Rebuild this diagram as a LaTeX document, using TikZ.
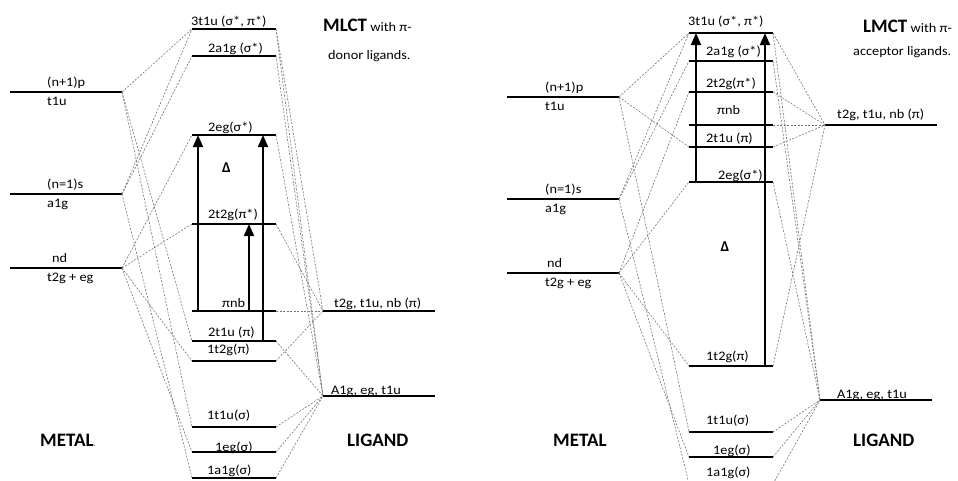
\documentclass[tikz,border=0pt]{standalone}
\usepackage{fontspec}
\setmainfont{Carlito}[FakeStretch=1.1]
\newfontfamily\headfont{Carlito}
\usetikzlibrary{arrows.meta}

\tikzset{
  level/.style={line width=1.3pt},
  link/.style={gray!90!black, line width=0.6pt, dash pattern=on 2pt off 1.5pt},
  trans/.style={line width=1.8pt, -{Triangle[width=10pt,length=12pt]}},
  lbl/.style={anchor=base west, inner sep=0pt, font=\fontsize{13}{15}\selectfont},
  head/.style={anchor=base west, inner sep=0pt, font=\headfont\bfseries\fontsize{19}{22}\selectfont},
}

\begin{document}
\begin{tikzpicture}[x=1pt,y=-1pt]
\useasboundingbox (0,0) rectangle (958,480);

% ---------- MLCT panel ----------
% metal orbitals
\foreach \n/\y/\ax/\a/\b in {p/92/47/(n+1)p/t1u, s/194/47/(n=1)s/a1g, d/268/52/nd/t2g + eg}{
  \coordinate (Am\n-w) at (10,\y);
  \coordinate (Am\n-e) at (122,\y);
  \draw[level] (Am\n-w) -- (Am\n-e);
  \node[lbl] (Am\n-up) at (\ax,\y-6) {\a};
  \node[lbl] (Am\n-dn) at (47,\y+13) {\b};
}
% molecular orbitals
\foreach \n/\y/\lx/\ly/\t in {3t1u/29/191/25/{3t1u (σ*, π*)}, 2a1g/56/208/52/{2a1g (σ*)},
    2eg/135/208/131/2eg(σ*), 2t2g/224/208/218/2t2g(π*), pnb/311/222/307/πnb,
    2t1u/341/208/336/{2t1u (π)}, 1t2g/361/207/353/1t2g(π), 1t1u/427/207/419/1t1u(σ),
    1eg/452/215/451/1eg(σ), 1a1g/478/207/474/1a1g(σ)}{
  \coordinate (Ao\n-w) at (192,\y);
  \coordinate (Ao\n-e) at (276,\y);
  \draw[level] (Ao\n-w) -- (Ao\n-e);
  \node[lbl] (Ao\n-t) at (\lx,\ly) {\t};
}
% ligand orbitals
\coordinate (Alpi-w) at (323,311);
\coordinate (Alpi-e) at (435,311);
\draw[level] (Alpi-w) -- (Alpi-e);
\node[lbl] (Alpi-t) at (334,307) {t2g, t1u, nb (π)};
\coordinate (Alsig-w) at (323,396);
\coordinate (Alsig-e) at (435,396);
\draw[level] (Alsig-w) -- (Alsig-e);
\node[lbl] (Alsig-t) at (331,394) {A1g, eg, t1u};
% correlation lines
\foreach \m/\o in {p/3t1u, p/2t1u, p/1t1u, s/3t1u, s/2a1g, s/1a1g, d/2eg, d/2t2g, d/1t2g, d/1eg}
  \draw[link] (Am\m-e) -- (Ao\o-w);
\foreach \o in {3t1u, 2t2g, pnb, 1t2g}
  \draw[link] (Ao\o-e) -- (Alpi-w);
\foreach \o in {3t1u, 2a1g, 2eg, 2t1u, 1t1u, 1eg, 1a1g}
  \draw[link] (Ao\o-e) -- (Alsig-w);
% transitions
\draw[trans] ([xshift=6pt]Aopnb-w) -- ([xshift=6pt]Ao2eg-w);
\draw[trans] ([xshift=-13pt]Ao2t1u-e) -- ([xshift=-13pt]Ao2eg-e);
\draw[trans] ([xshift=-27pt]Aopnb-e) -- ([xshift=-27pt]Ao2t2g-e);
\node[font=\headfont\bfseries\fontsize{15}{17}\selectfont] (Adelta) at (226.5,168) {Δ};
% titles
\node[head] (Atitle) at (323,31) {MLCT\normalfont\fontsize{13}{15}\selectfont{} with π-};
\node[lbl] (Anote) at (328,59) {donor ligands.};
\node[head] (Ametal) at (40,446) {METAL\normalfont\fontsize{7}{8}\selectfont.};
\node[head] (Aligand) at (347,446) {LIGAND};

% ---------- LMCT panel ----------
% metal orbitals
\foreach \n/\y/\ax/\a/\b in {p/97/545/(n+1)p/t1u, s/199/545/(n=1)s/a1g, d/273/547/nd/t2g + eg}{
  \coordinate (Bm\n-w) at (507,\y);
  \coordinate (Bm\n-e) at (619,\y);
  \draw[level] (Bm\n-w) -- (Bm\n-e);
  \node[lbl] (Bm\n-up) at (\ax,\y-6) {\a};
  \node[lbl] (Bm\n-dn) at (545,\y+13) {\b};
}
% molecular orbitals
\foreach \n/\y/\lx/\ly/\t in {3t1u/33/688/25/{3t1u (σ*, π*)}, 2a1g/61/706/55/{2a1g (σ*)},
    2t2g/92/706/87/2t2g(π*), pnb/125/717/114/πnb, 2t1u/147/706/142/{2t1u (π)},
    2eg/182/718/179/2eg(σ*), 1t2g/366/706/360/1t2g(π), 1t1u/432/706/424/1t1u(σ),
    1eg/457/713/454/1eg(σ), 1a1g/484/706/476/1a1g(σ)}{
  \coordinate (Bo\n-w) at (689,\y);
  \coordinate (Bo\n-e) at (773,\y);
  \draw[level] (Bo\n-w) -- (Bo\n-e);
  \node[lbl] (Bo\n-t) at (\lx,\ly) {\t};
}
% ligand orbitals
\coordinate (Blpi-w) at (825,125);
\coordinate (Blpi-e) at (937,125);
\draw[level] (Blpi-w) -- (Blpi-e);
\node[lbl] (Blpi-t) at (837,118) {t2g, t1u, nb (π)};
\coordinate (Blsig-w) at (820,400);
\coordinate (Blsig-e) at (932,400);
\draw[level] (Blsig-w) -- (Blsig-e);
\node[lbl] (Blsig-t) at (837,398) {A1g, eg, t1u};
% correlation lines
\foreach \m/\o in {p/3t1u, p/2t1u, p/1t1u, s/3t1u, s/2a1g, s/1a1g, d/2t2g, d/2eg, d/1t2g, d/1eg}
  \draw[link] (Bm\m-e) -- (Bo\o-w);
\foreach \o in {3t1u, 2t2g, pnb, 2t1u, 1t2g}
  \draw[link] (Bo\o-e) -- (Blpi-w);
\foreach \o in {3t1u, 2a1g, 2eg, 1t1u, 1eg, 1a1g}
  \draw[link] (Bo\o-e) -- (Blsig-w);
% transitions
\draw[trans] ([xshift=7pt]Bo2eg-w) -- ([xshift=7pt]Bo3t1u-w);
\draw[trans] ([xshift=-8pt]Bo1t2g-e) -- ([xshift=-8pt]Bo3t1u-e);
\node[font=\headfont\bfseries\fontsize{15}{17}\selectfont] (Bdelta) at (725,247) {Δ};
% titles
\node[head] (Btitle) at (863,32) {LMCT\normalfont\fontsize{13}{15}\selectfont{} with π-};
\node[lbl] (Bnote) at (853,55) {acceptor ligands.};
\node[head] (Bmetal) at (553,446) {METAL};
\node[head] (Bligand) at (853,446) {LIGAND};
\end{tikzpicture}
\end{document}
